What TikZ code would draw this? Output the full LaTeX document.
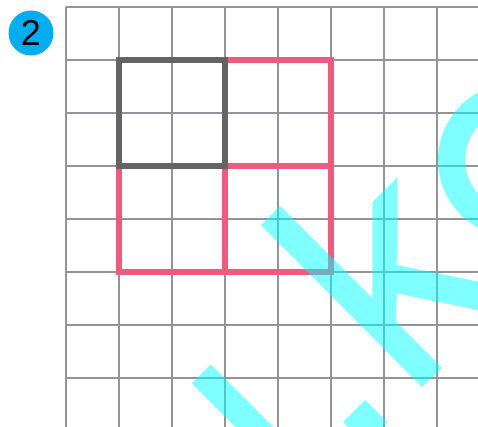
\documentclass[tikz,border=0pt]{standalone}
\usepackage{fontspec}
\setmainfont{Liberation Sans}
\definecolor{gridgray}{HTML}{939399}
\definecolor{boxgray}{HTML}{646464}
\definecolor{pinkred}{HTML}{F05A7E}
\definecolor{badgeblue}{HTML}{00AEEF}
\definecolor{wmcyan}{HTML}{00FFFF}
\tikzset{
  gridline/.style={draw=gridgray, line width=2pt},
  pinkline/.style={draw=pinkred, line width=5.5pt, line cap=rect, line join=miter},
  grayline/.style={draw=boxgray, line width=5.5pt, line join=miter},
  badge/.style={circle, fill=badgeblue, minimum size=45pt, inner sep=0pt, text=black,
    font=\fontsize{36}{36}\selectfont},
  watermark/.style={fill=wmcyan, fill opacity=0.5}
}
\begin{document}
\begin{tikzpicture}[x=1pt,y=-1pt]
\useasboundingbox (0,0) rectangle (478,427);
\begin{scope}
\clip (0,0) rectangle (478,427);
% grid
\foreach \i in {0,...,7} {
  \draw[gridline] ({66+52.95*\i},7) -- ({66+52.95*\i},430);
  \draw[gridline] (66,{7+52.95*\i}) -- (480,{7+52.95*\i});
}
% pink L-shape of squares
\coordinate (p1) at (225,60);
\coordinate (p2) at (331,60);
\coordinate (p3) at (331,272);
\coordinate (p4) at (119,272);
\coordinate (p5) at (119,166);
\coordinate (pc) at (225,166);
\coordinate (pr) at (331,166);
\coordinate (pb) at (225,272);
\draw[pinkline] (p1) -- (p2) -- (p3) -- (p4) -- (p5);
\draw[pinkline] (pc) -- (pr);
\draw[pinkline] (pc) -- (pb);
% gray square
\coordinate (g1) at (119,60);
\coordinate (g2) at (225,166);
\draw[grayline] (g1) rectangle (g2);
% watermark
\fill[watermark]
  (261,225) -- (280,206) -- (442,368) -- (422,387) -- cycle
  (372.3,202.3) -- (397.3,177.3) -- (396.7,265) -- (500,286.2) -- (500,314.5)
     -- (396.7,293.3) -- (396,321.7) -- (372.3,297.5) -- cycle
  (191.7,383.3) -- (210.7,364.3) -- (290,443.6) -- (271,462.6) -- cycle
  (343,422) -- (365,400) -- (387,422) -- (365,444) -- cycle;
\fill[watermark, even odd rule] (515,160) circle[radius=77] (515,160) circle[radius=50];
\end{scope}
% badge
\node[badge] (badge) at (31,33) {2};
\end{tikzpicture}
\end{document}
